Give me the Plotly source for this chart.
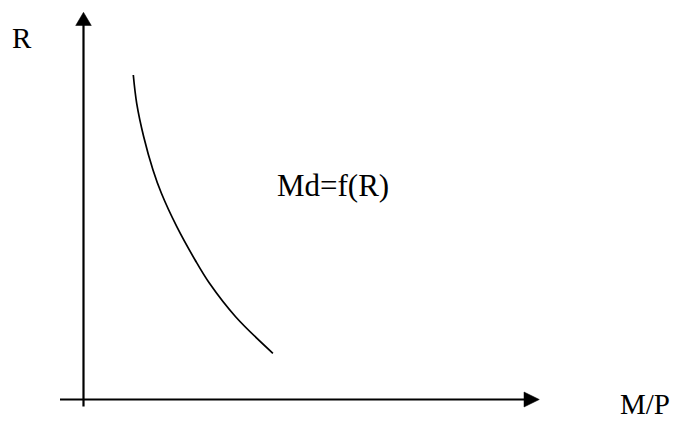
import plotly.graph_objects as go

# Money demand curve Md = f(R): real balances (M/P) vs interest rate (R)
curve_mp = [49.8, 53.2, 60.2, 69.5, 77.9, 93.3, 111.6, 126.0, 152.1, 189.4]
curve_r = [324.5, 296.2, 262.8, 229.5, 206.2, 172.8, 139.5, 116.2, 82.8, 46.2]

x_label = "M/P"
y_label = "R"
curve_label = "Md=f(R)"

fig = go.Figure()
fig.add_trace(go.Scatter(
    x=curve_mp, y=curve_r, mode="lines",
    line=dict(color="black", width=1.7, shape="spline", smoothing=1.0),
    hoverinfo="skip", showlegend=False,
))

# axes with arrowheads
fig.add_shape(type="line", x0=0, y0=-7, x1=0, y1=375, line=dict(color="black", width=2.2))
fig.add_shape(type="path", path="M -7.8,374 L 7.8,374 L 0,387.2 Z",
              fillcolor="black", line=dict(color="black", width=0.5))
fig.add_shape(type="line", x0=-23.5, y0=0, x1=441, y1=0, line=dict(color="black", width=2.2))
fig.add_shape(type="path", path="M 440.5,-7.5 L 440.5,7.5 L 455.8,0 Z",
              fillcolor="black", line=dict(color="black", width=0.5))

font = dict(family="Liberation Serif, Times New Roman, serif", size=29, color="black")
font_big = dict(family="Liberation Serif, Times New Roman, serif", size=31, color="black")
fig.add_annotation(x=-61.5, y=361.5, text=y_label, showarrow=False, font=font)
fig.add_annotation(x=249, y=214.5, text=curve_label, showarrow=False, font=font_big)
fig.add_annotation(x=561.5, y=-4.5, text=x_label, showarrow=False, font=font)

fig.update_layout(
    width=681, height=423,
    margin=dict(l=0, r=0, t=0, b=0),
    paper_bgcolor="white", plot_bgcolor="white",
    xaxis=dict(range=[-83.5, 597.5], visible=False, fixedrange=True),
    yaxis=dict(range=[-23.5, 399.5], visible=False, fixedrange=True),
)

fig.write_html(
    "out.html",
    config={"displayModeBar": False},
    post_script="document.body.style.margin='0';document.body.style.overflow='hidden';",
)
